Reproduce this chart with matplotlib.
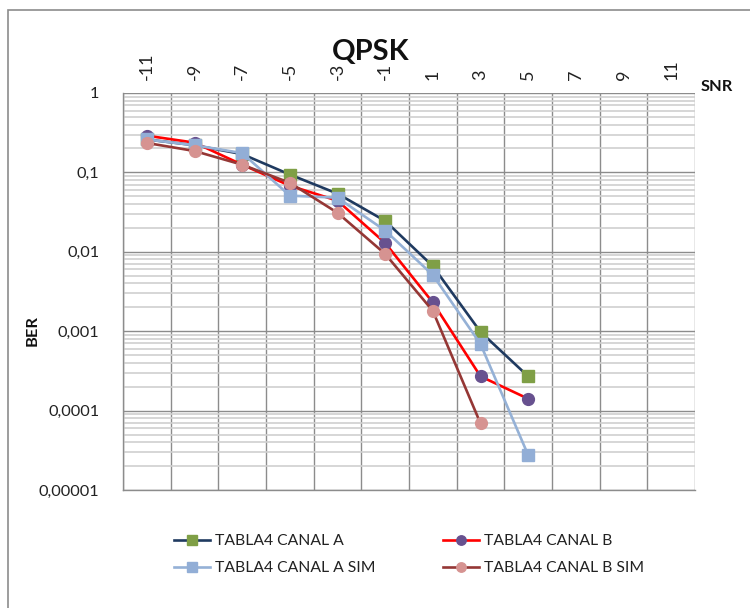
import matplotlib
matplotlib.use("Agg")
import matplotlib.pyplot as plt
from matplotlib.ticker import FixedLocator, NullFormatter, LogLocator
from matplotlib.patches import Rectangle

plt.rcParams['font.family'] = ['Lato', 'DejaVu Sans']

# SNR (dB) and measured / simulated BER
snr = [-11, -9, -7, -5, -3, -1, 1, 3, 5]
snr_b_sim = [-11, -9, -7, -5, -3, -1, 1, 3]
canal_a = [0.26, 0.22, 0.17, 0.094, 0.054, 0.0245, 0.0066, 0.00098, 0.00027]
canal_b = [0.29, 0.237, 0.125, 0.068, 0.044, 0.0129, 0.0023, 0.00027, 0.000141]
canal_a_sim = [0.26, 0.22, 0.175, 0.051, 0.048, 0.0185, 0.0051, 0.00069, 0.0000275]
canal_b_sim = [0.235, 0.186, 0.125, 0.074, 0.031, 0.0094, 0.0018, 0.000069]

x_ticks = [-11, -9, -7, -5, -3, -1, 1, 3, 5, 7, 9, 11]
y_ticks = [1e-5, 1e-4, 1e-3, 1e-2, 1e-1, 1]
y_labels = ["0,00001", "0,0001", "0,001", "0,01", "0,1", "1"]

fig = plt.figure(figsize=(7.5, 6.08), dpi=100)
fig.patch.set_facecolor('white')
fig.add_artist(Rectangle((8 / 750, -0.05), 1.0, 1 - 10 / 608 + 0.05,
                         transform=fig.transFigure, fill=False,
                         edgecolor='#8c8c8c', linewidth=1.2))

ax = fig.add_axes([123 / 750, 1 - 490 / 608, 572 / 750, 397 / 608])
ax.set_yscale('log')
ax.set_ylim(1e-5, 1)
ax.set_xlim(-12, 12)

# grid: vertical lines between categories, decade + minor horizontal lines
ax.xaxis.set_major_locator(FixedLocator(x_ticks))
ax.xaxis.set_minor_locator(FixedLocator(list(range(-12, 13, 2))))
ax.set_xticklabels([str(v) for v in x_ticks], rotation=90)
ax.yaxis.set_major_locator(FixedLocator(y_ticks))
ax.set_yticklabels(y_labels)
ax.yaxis.set_minor_locator(LogLocator(base=10, subs=range(2, 10), numticks=20))
ax.yaxis.set_minor_formatter(NullFormatter())

ax.grid(which='minor', axis='x', color='#8c8c8c', linewidth=1.0)
ax.grid(which='major', axis='y', color='#8c8c8c', linewidth=1.0)
ax.grid(which='minor', axis='y', color='#d0d0d0', linewidth=1.2)
ax.set_axisbelow(True)

ax.xaxis.tick_top()
ax.tick_params(axis='x', which='both', length=0, pad=9, labelsize=13, colors='#222222')
ax.tick_params(axis='y', which='both', length=0, pad=17, labelsize=11.8, colors='#222222')
for side in ['top', 'right']:
    ax.spines[side].set_visible(False)
for side in ['left', 'bottom']:
    ax.spines[side].set_color('#8c8c8c')
    ax.spines[side].set_linewidth(1.0)

lw = 1.9
ms = 8.5
la, = ax.plot(snr, canal_a, color='#1f3a60', lw=lw, marker='s', ms=ms,
              mfc='#7f9f46', mec='#7f9f46', label='TABLA4 CANAL A')
lb, = ax.plot(snr, canal_b, color='#ff0000', lw=lw, marker='o', ms=ms,
              mfc='#67518f', mec='#67518f', label='TABLA4 CANAL B')
las, = ax.plot(snr, canal_a_sim, color='#95b1d6', lw=lw, marker='s', ms=ms,
               mfc='#92aed6', mec='#92aed6', label='TABLA4 CANAL A SIM')
lbs, = ax.plot(snr_b_sim, canal_b_sim, color='#953735', lw=lw, marker='o', ms=ms,
               mfc='#d69391', mec='#d69391', label='TABLA4 CANAL B SIM')

fig.text(371 / 750, 1 - 52 / 608, 'QPSK', ha='center', va='center',
         fontsize=21, fontweight='bold', color='#111111')
fig.text(701 / 750, 1 - 87 / 608, 'SNR', ha='left', va='center',
         fontsize=11.8, fontweight='bold', color='#111111')
fig.text(33 / 750, 1 - 331 / 608, 'BER', ha='center', va='center', rotation=90,
         fontsize=11.8, fontweight='bold', color='#111111')

fig.legend(handles=[la, las, lb, lbs], ncol=2, loc='upper left',
           bbox_to_anchor=(174 / 750, 1 - 534 / 608), frameon=False,
           borderpad=0, borderaxespad=0, markerscale=0.8,
           fontsize=11.3, handlelength=2.3, handletextpad=0.3,
           columnspacing=4.3, labelspacing=0.85, labelcolor='#222222')

fig.savefig('out.png', dpi=100)
